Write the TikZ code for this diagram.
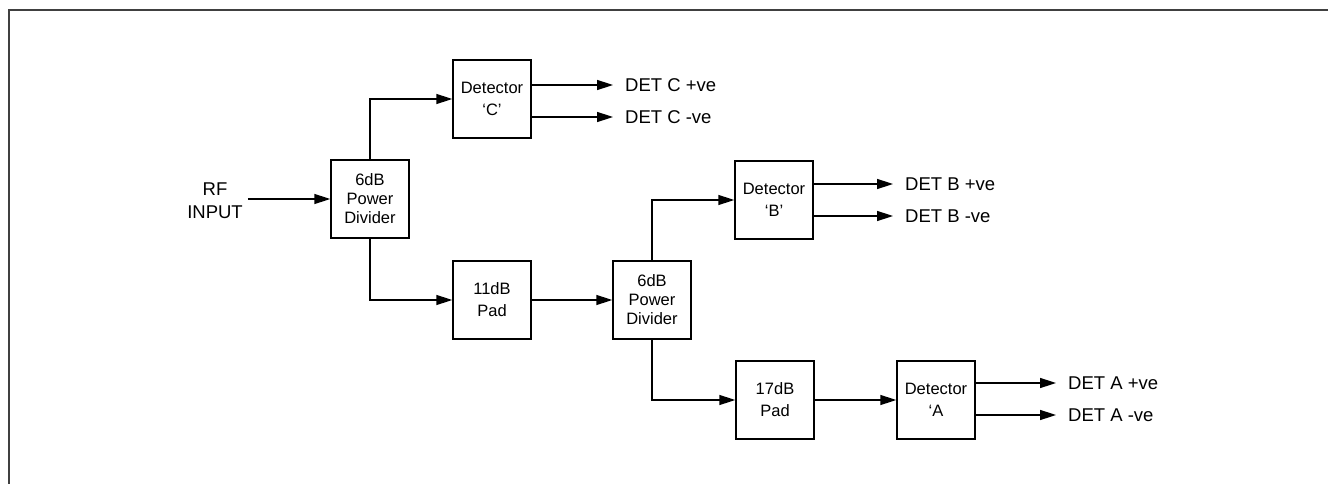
\documentclass[tikz,border=0pt]{standalone}
\usepackage{fontspec}
\setmainfont{Liberation Sans}
\usetikzlibrary{arrows.meta}

\tikzset{
  blk/.style={draw, line width=1.5pt, minimum width=78pt, minimum height=78pt, inner sep=0pt, align=center, font=\fontsize{16.5}{22}\selectfont},
  divblk/.style={blk, font=\fontsize{16.5}{19}\selectfont},
  outlab/.style={anchor=west, inner xsep=12pt, inner ysep=0pt, font=\fontsize{18.5}{22}\selectfont},
  sig/.style={line width=1.5pt, -{Triangle[length=16pt,width=10pt]}}
}

\begin{document}
\begin{tikzpicture}[x=1pt,y=-1pt]
\useasboundingbox (0,0) rectangle (1328,484);
\draw[line width=2pt, black!75] (9,500) -- (9,10) -- (1340,10);
\node[align=center, inner xsep=5pt, font=\fontsize{18.5}{23}\selectfont] (rf) at (215,201) {RF\\INPUT};
\node[divblk] (pd1) at (370,199) {6dB\\Power\\Divider};
\node[blk] (detc) at (492,99) {Detector\\‘C’};
\node[blk] (pad11) at (492,300) {11dB\\Pad};
\node[divblk] (pd2) at (652,300) {6dB\\Power\\Divider};
\node[blk] (detb) at (774,200) {Detector\\‘B’};
\node[blk] (pad17) at (775,400) {17dB\\Pad};
\node[blk] (deta) at (936,400) {Detector\\‘A};
\node[outlab] (cp) at (613,85) {DET C +ve};
\node[outlab] (cn) at (613,117) {DET C -ve};
\node[outlab] (bp) at (893,184) {DET B +ve};
\node[outlab] (bn) at (893,216) {DET B -ve};
\node[outlab] (ap) at (1056,383) {DET A +ve};
\node[outlab] (an) at (1056,415) {DET A -ve};
\draw[sig] (rf.east |- pd1.west) -- (pd1.west);
\draw[sig] (pd1.north) |- (detc.west);
\draw[sig] (pd1.south) |- (pad11.west);
\draw[sig] (pad11.east) -- (pd2.west);
\draw[sig] (pd2.north) |- (detb.west);
\draw[sig] (pd2.south) |- (pad17.west);
\draw[sig] (pad17.east) -- (deta.west);
\draw[sig] (detc.east |- cp.west) -- (cp.west);
\draw[sig] (detc.east |- cn.west) -- (cn.west);
\draw[sig] (detb.east |- bp.west) -- (bp.west);
\draw[sig] (detb.east |- bn.west) -- (bn.west);
\draw[sig] (deta.east |- ap.west) -- (ap.west);
\draw[sig] (deta.east |- an.west) -- (an.west);
\end{tikzpicture}
\end{document}
